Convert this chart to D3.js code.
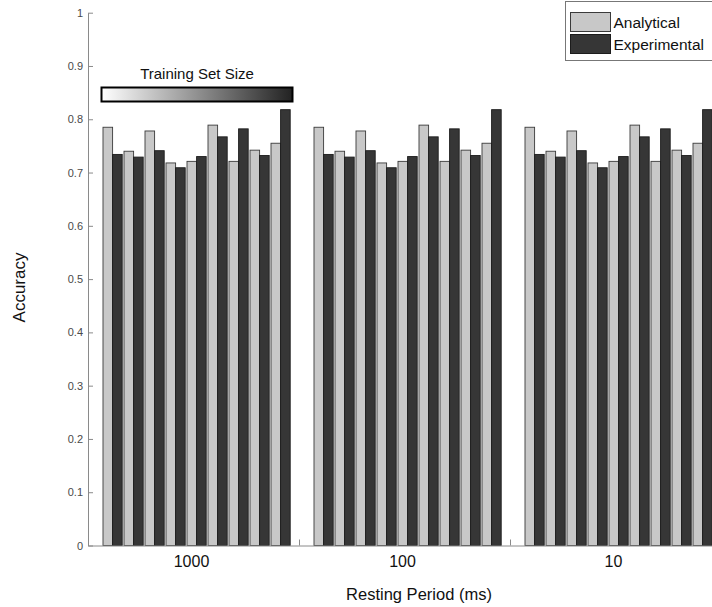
<!DOCTYPE html>
<html>
<head>
<meta charset="utf-8">
<script src="https://cdn.jsdelivr.net/npm/d3@7"></script>
<style>
  body { margin: 0; background: #fff; }
  svg { font-family: "Liberation Sans", Arial, sans-serif; }
</style>
</head>
<body>
<div id="chart"></div>
<script>
const width = 712;
const height = 607;

// data
const groups = ['1000', '100', '10'];
const seriesNames = ['Analytical', 'Experimental'];
const analytical = [0.785, 0.740, 0.778, 0.718, 0.721, 0.789, 0.721, 0.742, 0.755];
const experimental = [0.734, 0.729, 0.741, 0.709, 0.730, 0.767, 0.782, 0.732, 0.818];
const yTicks = [0, 0.1, 0.2, 0.3, 0.4, 0.5, 0.6, 0.7, 0.8, 0.9, 1];

const colors = { Analytical: '#c8c8c8', Experimental: '#363636' };
const strokes = { Analytical: '#3a3a3a', Experimental: '#1c1c1c' };

const svg = d3.select('#chart')
    .append('svg')
    .attr('width', width)
    .attr('height', height);

const y = d3.scaleLinear()
    .domain([0, 1])
    .range([545.5, 12.7]);

// group positions, matlab style: groups at 1..3, xlim [0.5 3.5]
const x = d3.scaleLinear()
    .domain([0.5, 3.5])
    .range([88, 88 + 3 * 211]);

const pairs = d3.scaleBand()
    .domain(d3.range(analytical.length))
    .range([0, 189]);

const barW = 9.6;

// BARS
const barData = [];
groups.forEach((g, gi) => {
    analytical.forEach((v, i) => {
        barData.push({ group: gi, pair: i, series: 'Analytical', value: v });
        barData.push({ group: gi, pair: i, series: 'Experimental', value: experimental[i] });
    });
});

svg.append('g')
    .selectAll('rect')
    .data(barData)
    .enter()
    .append('rect')
    .attr('x', d => x(d.group + 1) - 90.5 + pairs(d.pair) + (d.series === 'Experimental' ? barW : 0))
    .attr('y', d => y(d.value))
    .attr('width', barW)
    .attr('height', d => y(0) - y(d.value))
    .attr('fill', d => colors[d.series])
    .attr('stroke', d => strokes[d.series])
    .attr('stroke-width', 0.9);

// AXES
const yAxis = svg.append('g')
    .attr('transform', `translate(${x(0.5)},0)`)
    .call(d3.axisLeft(y).tickValues(yTicks).tickSize(-5).tickSizeOuter(0).tickPadding(5)
        .tickFormat(d3.format('~g')));

const xAxis = svg.append('g')
    .attr('transform', `translate(0,${y(0)})`)
    .call(d3.axisBottom(x).tickValues([1.5, 2.5]).tickSize(-6).tickSizeOuter(0).tickFormat(''));

[yAxis, xAxis].forEach(a => {
    a.select('.domain').attr('stroke', '#8a8a8a');
    a.selectAll('.tick line').attr('stroke', '#8a8a8a');
    a.selectAll('.tick text').attr('fill', '#4a4a4a').attr('font-size', 11)
        .attr('font-family', '"Liberation Sans", Arial, sans-serif');
});

svg.selectAll('.group-label')
    .data(groups)
    .enter()
    .append('text')
    .attr('class', 'group-label')
    .attr('x', (d, i) => x(i + 1) - 2)
    .attr('y', 567)
    .attr('text-anchor', 'middle')
    .attr('font-size', 16)
    .attr('fill', '#111')
    .text(d => d);

svg.append('text')
    .attr('x', 419)
    .attr('y', 600)
    .attr('text-anchor', 'middle')
    .attr('font-size', 16.5)
    .attr('fill', '#111')
    .text('Resting Period (ms)');

svg.append('text')
    .attr('transform', 'translate(25,287.5) rotate(-90)')
    .attr('text-anchor', 'middle')
    .attr('font-size', 17)
    .attr('fill', '#111')
    .text('Accuracy');

// TRAINING SET SIZE GRADIENT
const defs = svg.append('defs');
const grad = defs.append('linearGradient').attr('id', 'sizeGrad');
grad.append('stop').attr('offset', '0%').attr('stop-color', '#ffffff');
grad.append('stop').attr('offset', '100%').attr('stop-color', '#222222');

svg.append('rect')
    .attr('x', 101.5)
    .attr('y', 87.5)
    .attr('width', 191)
    .attr('height', 14)
    .attr('fill', 'url(#sizeGrad)')
    .attr('stroke', '#000')
    .attr('stroke-width', 2);

svg.append('text')
    .attr('x', 197)
    .attr('y', 79)
    .attr('text-anchor', 'middle')
    .attr('font-size', 15)
    .attr('fill', '#111')
    .text('Training Set Size');

// LEGEND
const legend = svg.append('g');
legend.append('rect')
    .attr('x', 565.5)
    .attr('y', 1.5)
    .attr('width', 160)
    .attr('height', 59)
    .attr('fill', '#fff')
    .attr('stroke', '#777');

const legendItems = legend.selectAll('.item')
    .data(seriesNames)
    .enter()
    .append('g')
    .attr('class', 'item')
    .attr('transform', (d, i) => `translate(570.5,${12.5 + i * 22})`);

legendItems.append('rect')
    .attr('width', 40)
    .attr('height', 19)
    .attr('fill', d => colors[d])
    .attr('stroke', d => strokes[d]);

legendItems.append('text')
    .attr('x', 43)
    .attr('y', 15)
    .attr('font-size', 15.5)
    .attr('fill', '#111')
    .text(d => d);
</script>
</body>
</html>
